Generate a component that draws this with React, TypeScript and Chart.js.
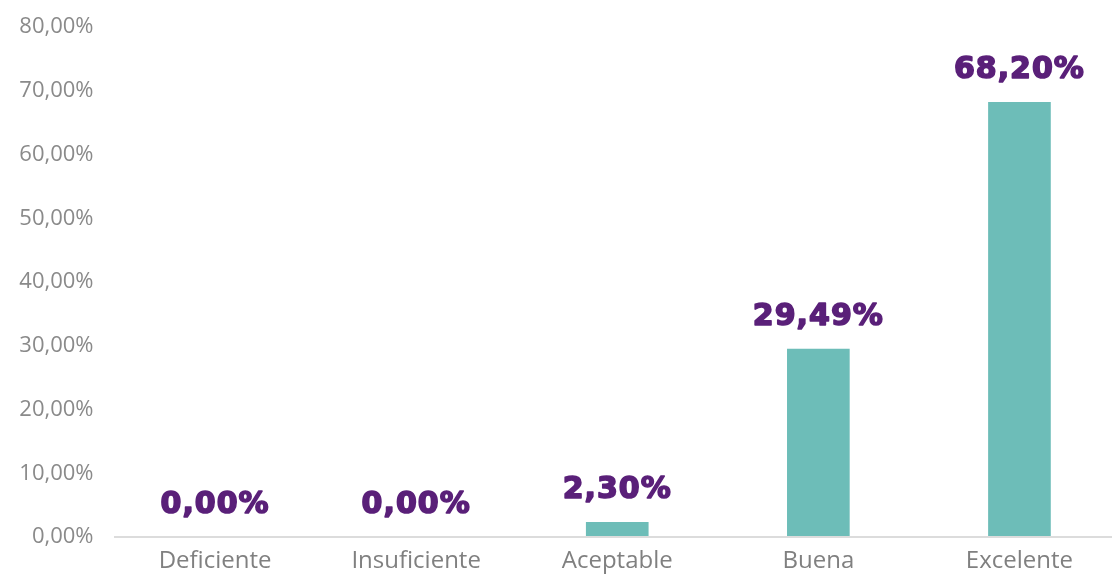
import React, { useEffect, useRef } from "react";
import { Chart, registerables } from "chart.js";

Chart.register(...registerables);

const categories = ["Deficiente", "Insuficiente", "Aceptable", "Buena", "Excelente"];
const values = [0.0, 0.0, 2.3, 29.49, 68.2];
const yMin = 0;
const yMax = 80;
const yStep = 10;

const fmt = (v: number) => v.toFixed(2).replace(".", ",") + "%";

const valueLabelPlugin = {
  id: "valueLabels",
  afterDatasetsDraw(chart: any) {
    const ctx = chart.ctx;
    const meta = chart.getDatasetMeta(0);
    ctx.save();
    ctx.font = "bold 30px 'DejaVu Sans'";
    (ctx as any).letterSpacing = "1px";
    ctx.fillStyle = "#5a2079";
    ctx.strokeStyle = "#5a2079";
    ctx.lineWidth = 1.6;
    ctx.lineJoin = "round";
    ctx.textAlign = "center";
    ctx.textBaseline = "alphabetic";
    meta.data.forEach((bar: any, i: number) => {
      const t = fmt(values[i]);
      ctx.fillText(t, bar.x, bar.y - 24);
      ctx.strokeText(t, bar.x, bar.y - 24);
    });
    ctx.restore();
  },
};

export default function App() {
  const ref = useRef<HTMLCanvasElement | null>(null);
  useEffect(() => {
    document.body.style.margin = "0";
    document.documentElement.style.overflow = "hidden";
    const chart = new Chart(ref.current!, {
      type: "bar",
      data: {
        labels: categories,
        datasets: [
          {
            data: values,
            backgroundColor: "#6dbdb8",
            barThickness: 62,
          },
        ],
      },
      plugins: [valueLabelPlugin],
      options: {
        animation: false,
        responsive: false,
        maintainAspectRatio: false,
        layout: { padding: { top: 27, right: 0, left: 0, bottom: 0 } },
        plugins: { legend: { display: false }, tooltip: { enabled: false } },
        scales: {
          x: {
            offset: true,
            grid: { display: false, drawTicks: false },
            border: { display: true, color: "#dcdcdc", width: 2, z: 1 },
            ticks: {
              color: "#808080",
              font: { family: "'Open Sans'", size: 24 },
              padding: 10,
              maxRotation: 0,
              autoSkip: false,
            },
            afterFit: (s: any) => {
              s.height = 37;
            },
          },
          y: {
            min: yMin,
            max: yMax,
            grid: { display: false, drawTicks: false },
            border: { display: false },
            ticks: {
              stepSize: yStep,
              color: "#8a8a8a",
              font: { family: "'Open Sans'", size: 22 },
              padding: 21,
              callback: (v: any) => fmt(Number(v)),
            },
            afterFit: (s: any) => {
              s.width = 114.5;
              s.paddingTop = 0;
              s.paddingBottom = 0;
            },
          },
        },
      },
    });
    return () => chart.destroy();
  }, []);
  return (
    <div style={{ position: "fixed", left: 0, top: 0, width: 1120, height: 574 }}>
      <canvas ref={ref} width={1120} height={574} style={{ width: 1120, height: 574 }} />
    </div>
  );
}
